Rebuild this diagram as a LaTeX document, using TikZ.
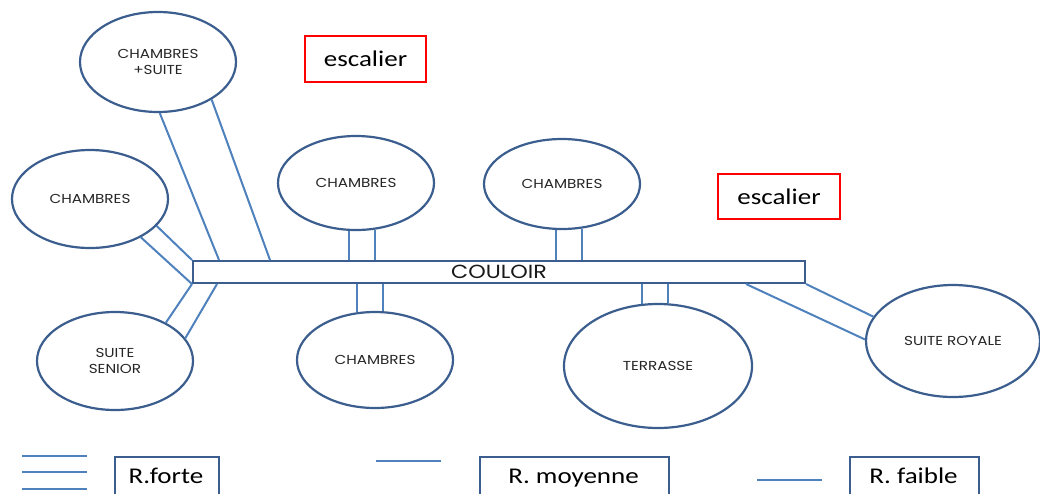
\documentclass[tikz,border=0pt]{standalone}
\usepackage{fontspec}
\setmainfont{Carlito}
\newfontfamily\geofont[FakeStretch=1.17]{Poppins}
\newfontfamily\calfont[FakeStretch=1.2]{Carlito}
\usetikzlibrary{shapes.geometric,calc}
\definecolor{dblue}{RGB}{59,94,143}
\definecolor{lblue}{RGB}{79,129,189}
\definecolor{rred}{RGB}{255,0,0}
\tikzset{
  room/.style={ellipse,draw=dblue,line width=2.2pt,inner sep=0pt,font=\geofont\fontsize{13}{16}\selectfont,align=center,text=black!85},
  link/.style={draw=lblue,line width=2pt},
  stair/.style={draw=rred,line width=2pt,inner sep=0pt,font=\calfont\fontsize{22.5}{26}\selectfont},
  legbox/.style={draw=dblue,line width=2.4pt,inner sep=0pt,anchor=north west},
  legtext/.style={anchor=base,font=\calfont\fontsize{22.5}{26}\selectfont},
}
\begin{document}
\begin{tikzpicture}[x=1pt,y=-1pt]
\useasboundingbox (0,0) rectangle (1040,493);
\clip (0,0) rectangle (1040,493);
% corridor
\node[draw=dblue,line width=2pt,minimum width=612pt,minimum height=22pt,inner sep=0pt,font=\geofont\fontsize{19}{22}\selectfont,text=black!90] (couloir) at (499,272) {COULOIR};
% rooms
\node[room,minimum width=156pt,minimum height=100pt] (cs) at (158,62) {CHAMBRES\\+SUITE};
\node[room,minimum width=156pt,minimum height=98pt] (cl) at (90,199) {CHAMBRES};
\node[room,minimum width=156pt,minimum height=98pt] (ss) at (115,361) {SUITE\\SENIOR};
\node[room,minimum width=156pt,minimum height=94pt] (c1) at (356,183) {CHAMBRES};
\node[room,minimum width=156pt,minimum height=90pt] (c2) at (562,184) {CHAMBRES};
\node[room,minimum width=156pt,minimum height=96pt] (c3) at (375,360) {CHAMBRES};
\node[room,minimum width=188pt,minimum height=124pt] (tr) at (658,366) {TERRASSE};
\node[room,minimum width=174pt,minimum height=112pt] (sr) at (953,341) {SUITE ROYALE};
% stairs
\node[stair,minimum width=121pt,minimum height=46pt] (e1) at (365.5,59) {escalier};
\node[stair,minimum width=122pt,minimum height=45pt] (e2) at (779,196.5) {escalier};
% connectors
\draw[link] (cs.-88) -- ($(couloir.north west)+(27,0)$);
\draw[link] (cs.-35) -- ($(couloir.north west)+(78,0)$);
\draw[link] (cl.-37) -- (couloir.south west);
\draw[link] (cl.-22) -- (couloir.north west);
\draw[link] (ss.37) -- (couloir.south west);
\draw[link] (ss.18) -- ($(couloir.south west)+(25,0)$);
\draw[link] (c1.-98.5) -- (c1.-98.5 |- couloir.north);
\draw[link] (c1.-68.6) -- (c1.-68.6 |- couloir.north);
\draw[link] (c2.-97.6) -- (c2.-97.6 |- couloir.north);
\draw[link] (c2.-66.5) -- (c2.-66.5 |- couloir.north);
\draw[link] (c3.111) -- (c3.111 |- couloir.south);
\draw[link] (c3.81.7) -- (c3.81.7 |- couloir.south);
\draw[link] (tr.104.7) -- (tr.104.7 |- couloir.south);
\draw[link] (tr.81.7) -- (tr.81.7 |- couloir.south);
\draw[link] ($(couloir.south east)+(-60,0)$) -- (sr.179);
\draw[link] (couloir.south east) -- (sr.163);
% legend
\coordinate (f1a) at (22,456); \coordinate (f1b) at (87,456);
\coordinate (f2a) at (22,472); \coordinate (f2b) at (87,472);
\coordinate (f3a) at (22,489); \coordinate (f3b) at (87,489);
\draw[link] (f1a) -- (f1b);
\draw[link] (f2a) -- (f2b);
\draw[link] (f3a) -- (f3b);
\node[legbox,minimum width=104pt,minimum height=50pt] (lf) at (114,456) {};
\node[legtext] (lft) at (166,483) {R.forte};
\coordinate (m1a) at (376,461); \coordinate (m1b) at (441,461);
\draw[link] (m1a) -- (m1b);
\node[legbox,minimum width=189pt,minimum height=50pt] (lm) at (479,456) {};
\node[legtext] (lmt) at (573.5,483) {R. moyenne};
\coordinate (w1a) at (757,480); \coordinate (w1b) at (822,480);
\draw[link] (w1a) -- (w1b);
\node[legbox,minimum width=129pt,minimum height=50pt] (lw) at (849,456) {};
\node[legtext] (lwt) at (913.5,483) {R. faible};
\end{tikzpicture}
\end{document}
